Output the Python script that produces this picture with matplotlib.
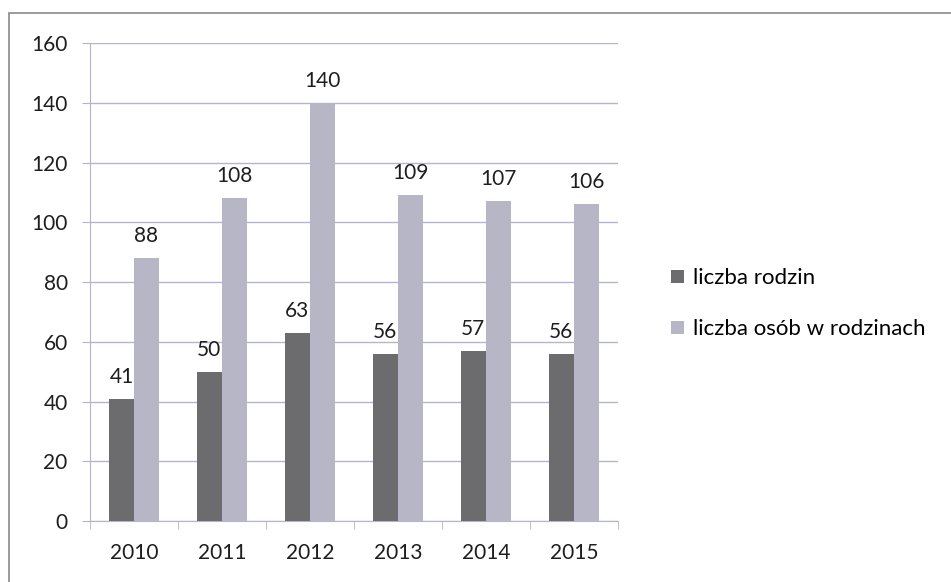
import numpy as np
import matplotlib.pyplot as plt
from matplotlib.patches import Rectangle

years = ['2010', '2011', '2012', '2013', '2014', '2015']
rodziny = [41, 50, 63, 56, 57, 56]
osoby = [88, 108, 140, 109, 107, 106]

dark = '#6c6c6e'
light = '#b6b6c6'
grid = '#b4b4cc'

plt.rcParams['font.family'] = ['Lato', 'DejaVu Sans']

fig = plt.figure(figsize=(9.51, 5.82), dpi=100)
ax = fig.add_axes([0.0946, 0.1048, 0.555, 0.8213])

x = np.arange(len(years))
w = 0.285
b1 = ax.bar(x - w/2, rodziny, w, color=dark, label='liczba rodzin', zorder=3)
b2 = ax.bar(x + w/2, osoby, w, color=light, label='liczba osób w rodzinach', zorder=3)

for bars, vals in ((b1, rodziny), (b2, osoby)):
    for r, v in zip(bars, vals):
        ax.text(r.get_x() + r.get_width()/2, v + 4, str(v), ha='center', va='bottom',
                fontsize=15, color='#1e1e1e')

ax.set_xlim(-0.5, len(years) - 0.5)
ax.set_ylim(0, 160)
ax.set_yticks(range(0, 161, 20))
ax.set_xticks(x)
ax.set_xticklabels(years)
ax.set_xticks(np.arange(-0.5, len(years)), minor=True)
ax.tick_params(axis='x', which='major', length=0, pad=16, labelsize=15, labelcolor='#1e1e1e')
ax.tick_params(axis='x', which='minor', length=6, color=grid, direction='out')
ax.tick_params(axis='y', length=6, color=grid, pad=10, labelsize=15, labelcolor='#1e1e1e')
ax.yaxis.grid(True, color=grid, linewidth=1, zorder=0)
for s in ['top', 'right']:
    ax.spines[s].set_visible(False)
ax.spines['left'].set_color(grid)
ax.spines['bottom'].set_color(grid)

leg = fig.legend(loc='center left', bbox_to_anchor=(0.685, 0.478), frameon=False,
                 fontsize=16, handlelength=0.55, handleheight=0.55, handletextpad=0.4,
                 labelspacing=1.4)

fig.patches.append(Rectangle((0.009, -0.01), 1.0, 0.988, transform=fig.transFigure,
                             fill=False, edgecolor='#8a8a8a', linewidth=1.2))

fig.savefig('out.png', dpi=100)
